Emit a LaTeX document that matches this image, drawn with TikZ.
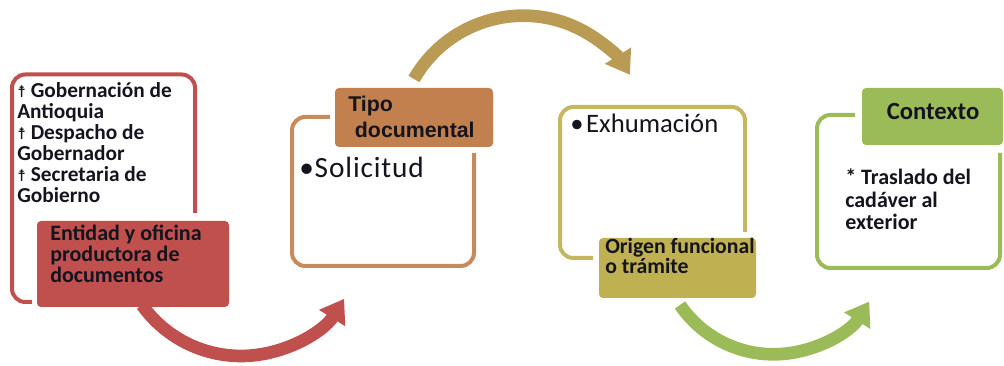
\documentclass[tikz,border=0pt]{standalone}
\usepackage{fontspec}
\setmainfont{Carlito}
\newfontfamily\calfont{Carlito}
\newfontfamily\libfont{Liberation Sans}
\newfontfamily\djfont{DejaVu Sans}
\usetikzlibrary{arrows.meta}
\definecolor{cred}{RGB}{192,80,77}
\definecolor{cbrownfill}{RGB}{193,128,78}
\definecolor{cbrownline}{RGB}{199,138,90}
\definecolor{cgold}{RGB}{186,155,84}
\definecolor{colivefill}{RGB}{191,176,82}
\definecolor{coliveline}{RGB}{196,183,95}
\definecolor{cgreen}{RGB}{155,187,89}
\definecolor{ctext}{RGB}{20,20,30}
\tikzset{
  outline/.style={line width=3pt, rounded corners=10pt},
  labelbox/.style={rounded corners=3pt},
  bigarrow/.style={line width=9.5pt, -{Triangle[length=17pt,width=22pt]}},
  txt/.style={anchor=base west, inner sep=0pt, text=ctext, align=left},
}
\newcommand{\crossmark}{{\djfont\fontsize{12}{12}\selectfont ☨}}
\begin{document}
\begin{tikzpicture}[x=0.75pt,y=-0.75pt]
\useasboundingbox (0,0) rectangle (1004,366);
% arrows (behind boxes)
\coordinate (a1s) at (142,305);
\coordinate (a2s) at (414,79);
\coordinate (a3s) at (680,305);
\draw[bigarrow, cred] (a1s) arc[start angle=215.5, end angle=328, radius=91.2pt];
\draw[bigarrow, cgold] (a2s) arc[start angle=150.2, end angle=32, radius=94.4pt];
\draw[bigarrow, cgreen] (a3s) arc[start angle=214.4, end angle=327.7, radius=85pt];
% box 1
\draw[outline, cred] (32,302) -- (12,302) -- (12,74.5) -- (195,74.5) -- (195,213);
\fill[labelbox, cred] (37,221) rectangle (229,307);
\node[txt, font=\calfont\bfseries\fontsize{16}{15.75}\selectfont] (t1) at (17,203)
  {\crossmark\ Gobernación de\\Antioquia\\\crossmark\ Despacho de\\Gobernador\\\crossmark\ Secretaria de\\Gobierno};
\node[txt, font=\calfont\bfseries\fontsize{16.5}{16.1}\selectfont] (l1) at (50,283)
  {Entidad y oficina\\productora de\\documentos};
% box 2
\draw[outline, cbrownline] (330,117) -- (292,117) -- (292,266) -- (474,266) -- (474,153);
\fill[labelbox, cbrownfill] (335,88) rectangle (493,147);
\node[txt, font=\libfont\bfseries\fontsize{16}{19.5}\selectfont] (l2) at (348,138)
  {Tipo\\\hspace*{5pt}documental};
\node[txt, font=\calfont\fontsize{22}{26}\selectfont\addfontfeature{LetterSpace=3}] (t2) at (299,178) {•Solicitud};
% box 3
\draw[outline, coliveline] (745,232) -- (745,107) -- (560,107) -- (560,258) -- (593,258);
\fill[labelbox, colivefill] (599,238) rectangle (756,298);
\node[txt, font=\calfont\fontsize{20}{24}\selectfont] (t3) at (570,133) {•\hspace{2pt}Exhumación};
\node[txt, font=\calfont\bfseries\fontsize{16.3}{15}\selectfont] (l3) at (605,274)
  {Origen funcional\\o trámite};
% box 4
\draw[outline, cgreen] (855,115) -- (817,115) -- (817,268) -- (1000,268) -- (1000,153);
\fill[labelbox, cgreen] (862,88) rectangle (1003,145);
\node[anchor=base, inner sep=0pt, text=ctext, font=\calfont\bfseries\fontsize{18.5}{22}\selectfont] (l4) at (933,120) {Contexto};
\node[txt, font=\calfont\bfseries\fontsize{16.5}{16.9}\selectfont] (t4) at (845,230)
  {* Traslado del\\cadáver al\\exterior};
\end{tikzpicture}
\end{document}
